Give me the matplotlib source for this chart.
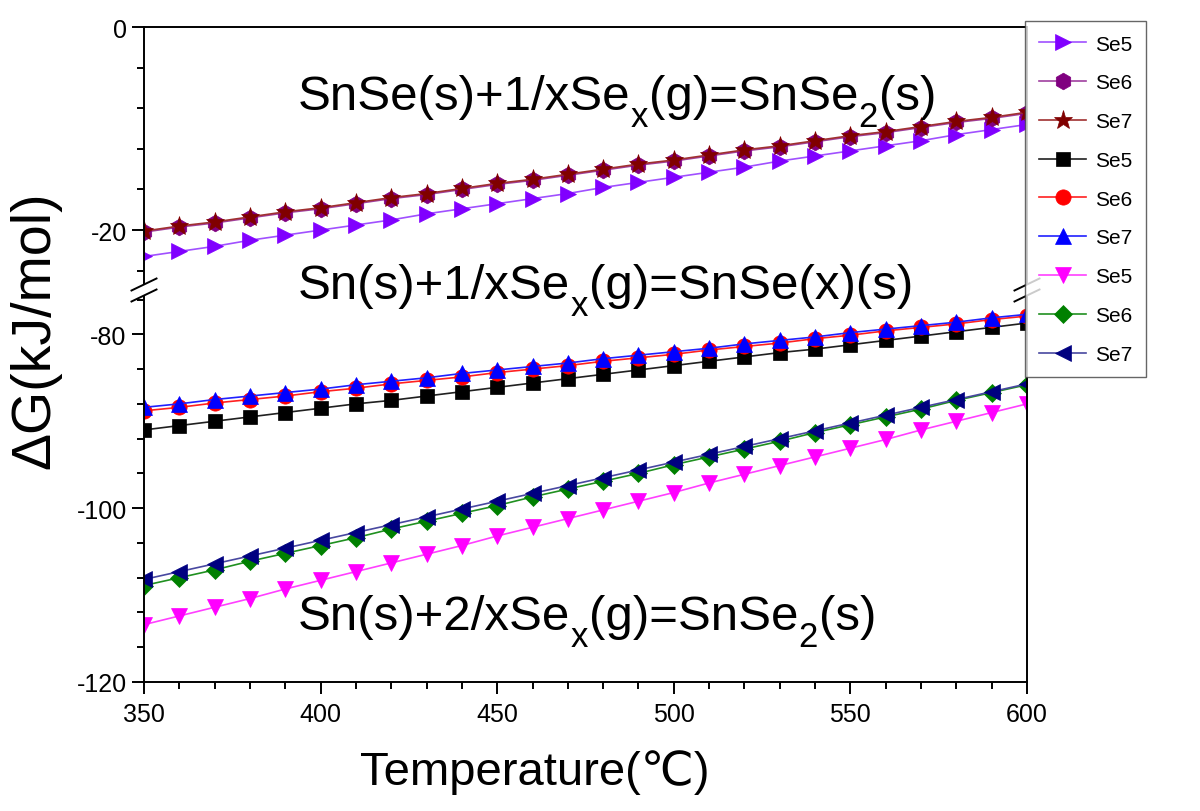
import matplotlib
matplotlib.use('Agg')
import matplotlib.pyplot as plt
from matplotlib.lines import Line2D
from matplotlib.patches import Polygon
from matplotlib.ticker import MultipleLocator, NullLocator

plt.rcParams['font.family'] = ['Liberation Sans', 'DejaVu Sans']
plt.rcParams['axes.unicode_minus'] = False

# ---------------- data ----------------
temperature = list(range(350, 601, 10))

# SnSe(s)+1/xSex(g)=SnSe2(s)
top_se5 = [-22.6, -22.1, -21.6, -21.0, -20.5, -20.0, -19.5, -19.0, -18.4, -17.9, -17.4, -16.9, -16.4,
           -15.8, -15.3, -14.8, -14.3, -13.8, -13.2, -12.7, -12.2, -11.7, -11.2, -10.6, -10.1, -9.6]
top_se6 = [-20.2, -19.7, -19.3, -18.8, -18.3, -17.9, -17.4, -16.9, -16.5, -16.0, -15.5, -15.1, -14.6,
           -14.1, -13.6, -13.2, -12.7, -12.2, -11.8, -11.3, -10.8, -10.4, -9.9, -9.4, -9.0, -8.5]
top_se7 = [-20.1, -19.6, -19.2, -18.7, -18.2, -17.8, -17.3, -16.8, -16.4, -15.9, -15.4, -15.0, -14.5,
           -14.0, -13.5, -13.1, -12.6, -12.1, -11.7, -11.2, -10.7, -10.3, -9.8, -9.3, -8.9, -8.4]

# Sn(s)+1/xSex(g)=SnSe(x)(s)
mid_se5 = [-91.0, -90.5, -90.0, -89.5, -89.0, -88.5, -88.0, -87.6, -87.1, -86.6, -86.1, -85.6, -85.1,
           -84.6, -84.1, -83.6, -83.1, -82.6, -82.1, -81.7, -81.2, -80.7, -80.2, -79.7, -79.2, -78.7]
mid_se6 = [-88.8, -88.4, -87.9, -87.5, -87.1, -86.6, -86.2, -85.7, -85.3, -84.9, -84.4, -84.0, -83.6,
           -83.1, -82.7, -82.3, -81.8, -81.4, -81.0, -80.5, -80.1, -79.6, -79.2, -78.8, -78.3, -77.9]
mid_se7 = [-88.4, -88.0, -87.5, -87.1, -86.7, -86.3, -85.8, -85.4, -85.0, -84.5, -84.1, -83.7, -83.3,
           -82.8, -82.4, -82.0, -81.6, -81.1, -80.7, -80.3, -79.8, -79.4, -79.0, -78.6, -78.1, -77.7]

# Sn(s)+2/xSex(g)=SnSe2(s)
low_se5 = [-113.4, -112.4, -111.4, -110.4, -109.3, -108.3, -107.3, -106.3, -105.3, -104.3, -103.2, -102.2, -101.2,
           -100.2, -99.2, -98.2, -97.1, -96.1, -95.1, -94.1, -93.1, -92.1, -91.0, -90.0, -89.0, -88.0]
low_se6 = [-108.9, -108.0, -107.1, -106.1, -105.2, -104.3, -103.4, -102.4, -101.5, -100.6, -99.7, -98.7, -97.8,
           -96.9, -96.0, -95.0, -94.1, -93.2, -92.3, -91.3, -90.4, -89.5, -88.6, -87.6, -86.7, -85.8]
low_se7 = [-108.2, -107.3, -106.4, -105.5, -104.6, -103.7, -102.8, -101.9, -101.0, -100.1, -99.2, -98.3, -97.4,
           -96.5, -95.6, -94.7, -93.8, -92.9, -92.0, -91.1, -90.2, -89.3, -88.4, -87.5, -86.6, -85.7]

series_labels = ['Se5', 'Se6', 'Se7', 'Se5', 'Se6', 'Se7', 'Se5', 'Se6', 'Se7']
# reactions as (text, is_subscript) pieces
reactions = [
    [('SnSe(s)+1/xSe', False), ('x', True), ('(g)=SnSe', False), ('2', True), ('(s)', False)],
    [('Sn(s)+1/xSe', False), ('x', True), ('(g)=SnSe(x)(s)', False)],
    [('Sn(s)+2/xSe', False), ('x', True), ('(g)=SnSe', False), ('2', True), ('(s)', False)],
]
x_label = 'Temperature(℃)'
y_label = 'ΔG(kJ/mol)'

# ---------------- layout ----------------
W, H = 1200, 812
fig = plt.figure(figsize=(W / 100, H / 100), dpi=100)


def fx(px):
    return px / W


def fy(py):
    return 1 - py / H


L, R, T, B, BRK = 144, 1027, 28, 683, 291
ax_top = fig.add_axes([fx(L), fy(BRK), fx(R) - fx(L), fy(T) - fy(BRK)])
ax_bot = fig.add_axes([fx(L), fy(B), fx(R) - fx(L), fy(BRK) - fy(B)])

styles = [
    # (values, axis, marker, marker colour, line colour, ms)
    (top_se5, ax_top, '>', '#8000ff', '#a050ff', 12),
    (top_se6, ax_top, 'h', '#800080', '#a040a0', 12),
    (top_se7, ax_top, '*', '#800000', '#a03030', 14),
    (mid_se5, ax_bot, 's', '#000000', '#202020', 10),
    (mid_se6, ax_bot, 'o', '#ff0000', '#ff2020', 11),
    (mid_se7, ax_bot, '^', '#0000ff', '#2020ff', 12),
    (low_se5, ax_bot, 'v', '#ff00ff', '#ff40ff', 12),
    (low_se6, ax_bot, 'D', '#008000', '#209020', 9),
    (low_se7, ax_bot, '<', '#000080', '#4848a0', 12),
]

handles = []
for (vals, ax, mk, mc, lc, ms), lab in zip(styles, series_labels):
    ln, = ax.plot(temperature, vals, color=lc, lw=1.2, marker=mk, ms=ms,
                  markerfacecolor=mc, markeredgecolor=mc, markeredgewidth=0.5, label=lab)
    handles.append(ln)

for ax in (ax_top, ax_bot):
    ax.set_xlim(350, 600)
    for s in ax.spines.values():
        s.set_linewidth(1.4)
    ax.yaxis.set_major_locator(MultipleLocator(20))
    ax.yaxis.set_minor_locator(MultipleLocator(4))
    ax.tick_params(axis='y', which='major', direction='out', length=8.5, width=1.4,
                   labelsize=18, pad=4, right=False)
    ax.tick_params(axis='y', which='minor', direction='out', length=5, width=1.4, right=False)

ax_top.set_ylim(-25.9, 0)
ax_bot.set_ylim(-120, -74.9)
ax_top.spines['bottom'].set_visible(False)
ax_bot.spines['top'].set_visible(False)
ax_top.tick_params(axis='x', which='both', bottom=False, top=False, labelbottom=False)
ax_top.xaxis.set_major_locator(NullLocator())
ax_bot.xaxis.set_major_locator(MultipleLocator(50))
ax_bot.xaxis.set_minor_locator(MultipleLocator(10))
ax_bot.tick_params(axis='x', which='major', direction='out', length=8.5, width=1.4,
                   labelsize=18, pad=6, top=False)
ax_bot.tick_params(axis='x', which='minor', direction='out', length=5, width=1.4, top=False)

# ---------------- axis break marks ----------------
def to_fig(pts):
    return [(fx(x), fy(y)) for x, y in pts]


for x0 in (L, R):
    hw, dy, gap = 12.5, 6.0, 5.5
    poly = Polygon(to_fig([(x0 - hw, BRK - gap + dy), (x0 + hw, BRK - gap - dy),
                           (x0 + hw, BRK + gap - dy), (x0 - hw, BRK + gap + dy)]),
                   closed=True, facecolor='white', edgecolor='none',
                   transform=fig.transFigure, zorder=3)
    fig.add_artist(poly)
    for g in (-gap, gap):
        p = to_fig([(x0 - hw, BRK + g + dy), (x0 + hw, BRK + g - dy)])
        fig.add_artist(Line2D([p[0][0], p[1][0]], [p[0][1], p[1][1]], color='black',
                              lw=1.4, transform=fig.transFigure, zorder=4))

# ---------------- texts ----------------
renderer = fig.canvas.get_renderer()
main_fs, sub_fs, sub_drop = 35.5, 25, 17


def rich_text(x_px, base_px, pieces):
    x = x_px
    for s, sub in pieces:
        fs = sub_fs if sub else main_fs
        yb = base_px + (sub_drop if sub else 0)
        t = fig.text(fx(x), fy(yb), s, fontsize=fs, ha='left', va='baseline', zorder=6)
        bb = t.get_window_extent(renderer=renderer)
        x += bb.width + (1 if sub else 0)


for pieces, base in zip(reactions, [110, 299, 630]):
    rich_text(298, base, pieces)

fig.text(fx(535), fy(785), x_label, fontsize=34, ha='center', va='baseline')
fig.text(fx(35), fy(330), y_label, fontsize=40, rotation=90, ha='center', va='center')

# ---------------- legend ----------------
leg = fig.legend(handles, series_labels, loc='upper left', bbox_to_anchor=(fx(1025), fy(22)),
                 bbox_transform=fig.transFigure, borderaxespad=0, frameon=True, fancybox=False,
                 edgecolor='#404040', fontsize=15, handlelength=2.3, handletextpad=0.4,
                 labelspacing=0.95, borderpad=0.65, numpoints=1)
leg.get_frame().set_linewidth(1.0)
leg.set_zorder(10)

fig.savefig('out.png', dpi=100, facecolor='white')
